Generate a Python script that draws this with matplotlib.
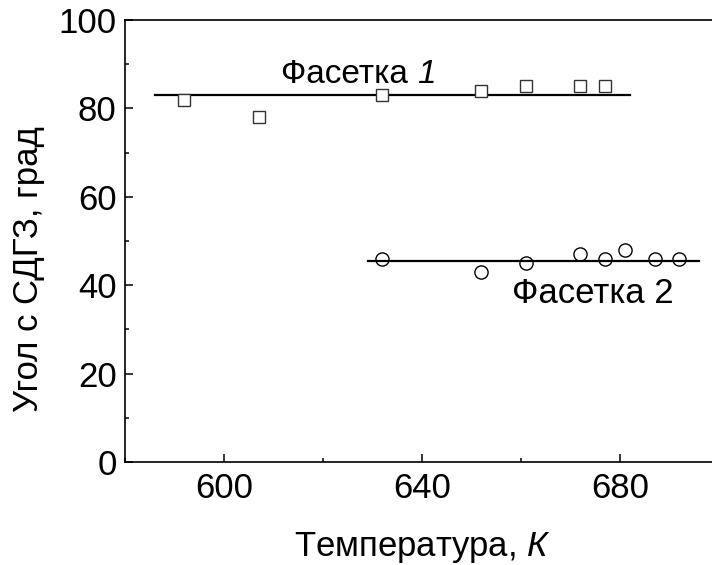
import matplotlib
matplotlib.use("Agg")
import matplotlib.pyplot as plt
from matplotlib.ticker import MultipleLocator

plt.rcParams['font.family'] = ['Liberation Sans', 'DejaVu Sans']
plt.rcParams['mathtext.fontset'] = 'custom'
plt.rcParams['mathtext.rm'] = 'Liberation Sans'
plt.rcParams['mathtext.it'] = 'Liberation Sans:italic'

# Data
T1 = [592, 607, 632, 652, 661, 672, 677]
A1 = [82, 78, 83, 84, 85, 85, 85]
T2 = [632, 652, 661, 672, 677, 681, 687, 692]
A2 = [46, 43, 45, 47, 46, 48, 46, 46]
fit1_x = [586, 682]
fit1_y = [83, 83]
fit2_x = [629, 696]
fit2_y = [45.5, 45.5]
xticks = [600, 640, 680]
yticks = [0, 20, 40, 60, 80, 100]

fig = plt.figure(figsize=(7.12, 5.65), dpi=100)
ax = fig.add_axes([125/712, 0.1823, 594/712, 0.7823])

ax.plot(fit1_x, fit1_y, color='black', lw=1.6)
ax.plot(fit2_x, fit2_y, color='black', lw=1.6)
ax.plot(T1, A1, ls='none', marker='s', ms=8.5, mfc='white', mec='#333333', mew=1.0)
ax.plot(T2, A2, ls='none', marker='o', ms=9.5, mfc='none', mec='black', mew=1.0)

ax.set_xlim(580, 700)
ax.set_ylim(0, 100)
ax.set_xticks(xticks)
ax.set_yticks(yticks)
ax.xaxis.set_minor_locator(MultipleLocator(20))
ax.yaxis.set_minor_locator(MultipleLocator(10))
ax.tick_params(which='both', direction='in', labelsize=25, width=1.1)
ax.tick_params(which='major', length=6)
ax.tick_params(which='minor', length=3)
ax.tick_params(axis='x', pad=7)
ax.tick_params(axis='y', pad=6)
for s in ax.spines.values():
    s.set_linewidth(1.2)

ax.set_xlabel('Температура, $\\mathit{К}$', fontsize=25, labelpad=18)
ax.set_ylabel('Угол с СДГЗ, град', fontsize=25)
ax.yaxis.set_label_coords(-0.135, 0.437)

t1 = ax.text(611.5, 87.6, 'Фасетка\u00a0', fontsize=24, ha='left', va='center')
ax.annotate('1', xy=(1, 0), xycoords=t1, ha='left', va='bottom',
            fontsize=24, fontstyle='italic', family='Liberation Sans')
ax.text(674.5, 38.2, 'Фасетка 2', fontsize=25, ha='center', va='center')

fig.savefig('out.png', dpi=100)
